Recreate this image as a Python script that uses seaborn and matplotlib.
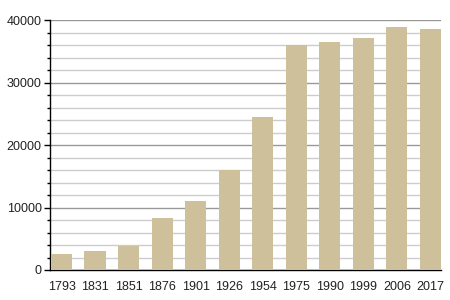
import matplotlib
matplotlib.use("Agg")
import matplotlib.pyplot as plt
import seaborn as sns
import pandas as pd
from matplotlib.ticker import MultipleLocator

years = ["1793", "1831", "1851", "1876", "1901", "1926", "1954", "1975", "1990", "1999", "2006", "2017"]
population = [2580, 3090, 3900, 8320, 11040, 16000, 24500, 36000, 36480, 37120, 38880, 38560]

df = pd.DataFrame({"year": years, "population": population})

sns.set_theme(style="white")
plt.rcParams['font.family'] = ['Liberation Sans', 'DejaVu Sans']

fig = plt.figure(figsize=(4.5, 3), dpi=100)
ax = fig.add_axes([0.111, 0.1, 0.869, 0.8333])

sns.barplot(data=df, x="year", y="population", color="#cdc09a", saturation=1, width=0.63,
            ax=ax, zorder=3, edgecolor="none", linewidth=0)

ax.set_ylim(0, 40000)
ax.set_xlim(-0.345, 11.315)
ax.yaxis.set_major_locator(MultipleLocator(10000))
ax.yaxis.set_minor_locator(MultipleLocator(2000))
ax.grid(True, which="major", axis="y", color="#999999", linewidth=1, zorder=1)
ax.grid(True, which="minor", axis="y", color="#cccccc", linewidth=1, zorder=0)
ax.set_axisbelow(True)

for s in ["top", "right"]:
    ax.spines[s].set_visible(False)
for s in ["left", "bottom"]:
    ax.spines[s].set_color("black")
    ax.spines[s].set_linewidth(1)

ax.tick_params(axis="y", which="major", left=True, length=4, width=1, color="black", labelsize=9, pad=2, labelcolor="#222222")
ax.tick_params(axis="y", which="minor", left=True, length=2, width=1, color="black")
ax.tick_params(axis="x", bottom=False, labelsize=9, pad=2, labelcolor="#222222")
ax.set_xlabel("")
ax.set_ylabel("")

fig.savefig("out.png", dpi=100)
